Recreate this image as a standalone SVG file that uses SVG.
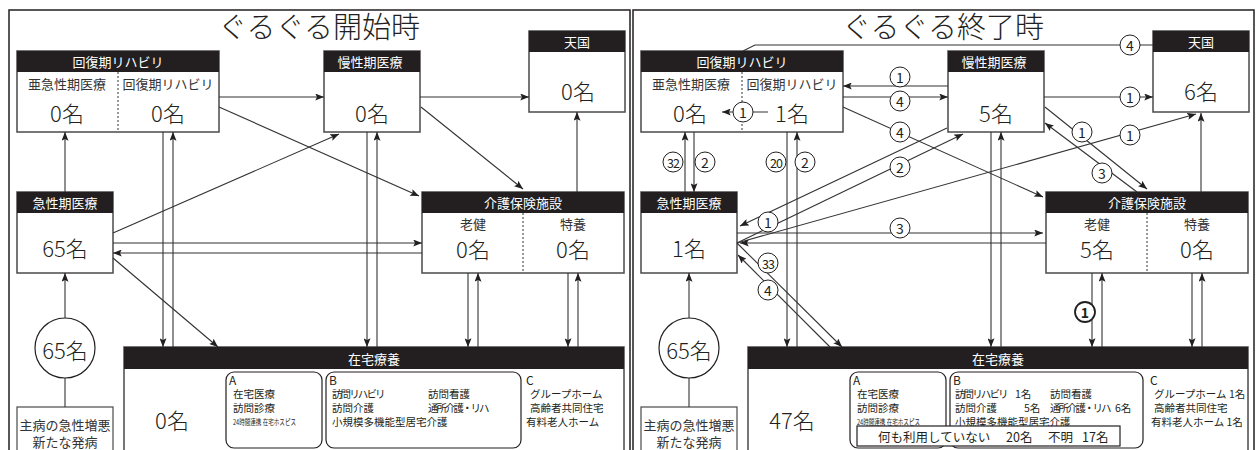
<svg xmlns="http://www.w3.org/2000/svg" width="1257" height="450" viewBox="0 0 1257 450">
<defs>
<marker id="ah" viewBox="0 0 10 8" refX="10" refY="4" markerWidth="9" markerHeight="7" orient="auto" markerUnits="userSpaceOnUse"><path d="M0,0 L10,4 L0,8 L2,4 z" fill="#231f20"/></marker>
</defs>
<style>
text{font-family:"Noto Sans CJK JP","Noto Sans",sans-serif;fill:#231f20}
.c{text-anchor:middle;dominant-baseline:central}
.m{dominant-baseline:central}
.frame{fill:none;stroke:#231f20;stroke-width:1.5}
.box{fill:#fff;stroke:#4a4a4a;stroke-width:1.5}
.hdr{fill:#231f20}
.ht{fill:#fff;font-size:13px}
.sub{fill:#333;font-size:13px}
.num{font-size:22px;font-weight:300}
.title{font-size:29px;font-weight:300;text-anchor:middle}
.div{stroke:#333;stroke-width:1;stroke-dasharray:2 2}
.ln{fill:none;stroke:#333;stroke-width:1.1}
.a{marker-end:url(#ah)}
.lc{fill:#fff;stroke:#231f20;stroke-width:1}
.lt{font-size:14px}
.lt2{font-size:12.5px;letter-spacing:-1px}
.lst{font-size:10.5px}
.nr1{letter-spacing:-1.9px}
.nr2{letter-spacing:-2px}
.rb{fill:#fff;stroke:#231f20;stroke-width:1.2}
.tiny{font-size:8px}
</style>

<!-- ============ LEFT PANEL ============ -->
<g id="L-panel">
<path class="frame" d="M9,452 V10 H630 V452"/>
<text class="title" x="319" y="38">ぐるぐる開始時</text>
</g>

<g id="L-kaifuku">
<rect class="box" x="17" y="51" width="202" height="81"/>
<rect class="hdr" x="17" y="51" width="202" height="21"/>
<text class="ht c" x="118" y="61.5">回復期リハビリ</text>
<line class="div" x1="118" y1="72" x2="118" y2="132"/>
<text class="sub c" x="67" y="83">亜急性期医療</text>
<text class="sub c" x="168" y="83">回復期リハビリ</text>
<text class="num c" x="67" y="112">0名</text>
<text class="num c" x="168" y="112">0名</text>
</g>

<g id="L-mansei">
<rect class="box" x="324" y="51" width="96" height="81"/>
<rect class="hdr" x="324" y="51" width="96" height="21"/>
<text class="ht c" x="370" y="61.5">慢性期医療</text>
<text class="num c" x="372" y="112">0名</text>
</g>

<g id="L-tengoku">
<rect class="box" x="529" y="31" width="96" height="81"/>
<rect class="hdr" x="529" y="31" width="96" height="21"/>
<text class="ht c" x="577" y="41.5">天国</text>
<text class="num c" x="578" y="90">0名</text>
</g>

<g id="L-kyusei">
<rect class="box" x="17" y="192" width="96" height="81"/>
<rect class="hdr" x="17" y="192" width="96" height="21"/>
<text class="ht c" x="65" y="202.5">急性期医療</text>
<text class="num c" x="65" y="247">65名</text>
</g>

<g id="L-kaigo">
<rect class="box" x="422" y="192" width="202" height="81"/>
<rect class="hdr" x="422" y="192" width="202" height="21"/>
<text class="ht c" x="523" y="202.5">介護保険施設</text>
<line class="div" x1="523" y1="213" x2="523" y2="273"/>
<text class="sub c" x="473" y="223">老健</text>
<text class="sub c" x="573" y="223">特養</text>
<text class="num c" x="473" y="248">0名</text>
<text class="num c" x="573" y="248">0名</text>
</g>

<g id="L-source">
<circle cx="65" cy="348" r="30" fill="#fff" stroke="#231f20" stroke-width="1.2"/>
<text class="num c" x="65" y="349">65名</text>
<rect x="17" y="407" width="96" height="50" fill="#fff" stroke="#4a4a4a" stroke-width="1.2"/>
<text class="sub c" x="65" y="424">主病の急性増悪</text>
<text class="sub c" x="65" y="441">新たな発病</text>
</g>

<g id="L-zaitaku">
<rect class="box" x="124" y="347" width="500" height="110"/>
<rect class="hdr" x="124" y="347" width="500" height="22"/>
<text class="ht c" x="374" y="358">在宅療養</text>
<text class="num c" x="172" y="419">0名</text>
<rect class="rb" x="226" y="372" width="96" height="76" rx="8"/>
<text class="lst m" x="229" y="379" style="font-size:12px">A</text>
<text class="lst m" x="233" y="393">在宅医療</text>
<text class="lst m" x="233" y="407">訪問診療</text>
<text class="tiny m" x="233" y="421" textLength="63" lengthAdjust="spacingAndGlyphs">24時間連携 在宅ホスピス</text>
<rect class="rb" x="326" y="372" width="195" height="76" rx="8"/>
<text class="lst m" x="329" y="379" style="font-size:12px">B</text>
<text class="lst m nr1" x="332" y="393">訪問リハビリ</text>
<text class="lst m" x="428" y="393">訪問看護</text>
<text class="lst m" x="332" y="407">訪問介護</text>
<text class="lst m nr2" x="428" y="407">通所介護・リハ</text>
<text class="lst m" x="332" y="421">小規模多機能型居宅介護</text>
<text class="lst m" x="526" y="379" style="font-size:12px">C</text>
<text class="lst m" x="530" y="393">グループホーム</text>
<text class="lst m" x="530" y="407">高齢者共同住宅</text>
<text class="lst m" x="526" y="421">有料老人ホーム</text>
</g>

<g id="L-connectors">
<line class="ln a" x1="219" y1="97" x2="324" y2="97"/>
<line class="ln a" x1="420" y1="97" x2="529" y2="97"/>
<line class="ln a" x1="219" y1="107" x2="419" y2="196"/>
<line class="ln a" x1="421" y1="107" x2="523" y2="189"/>
<line class="ln a" x1="113" y1="233" x2="339" y2="134"/>
<line class="ln a" x1="113" y1="243" x2="422" y2="243"/>
<line class="ln a" x1="422" y1="253" x2="113" y2="253"/>
<line class="ln a" x1="113" y1="258" x2="218" y2="347"/>
<line class="ln a" x1="65" y1="192" x2="65" y2="132"/>
<line class="ln a" x1="163" y1="132" x2="163" y2="347"/>
<line class="ln a" x1="173" y1="347" x2="173" y2="132"/>
<line class="ln a" x1="367" y1="132" x2="367" y2="347"/>
<line class="ln a" x1="377" y1="347" x2="377" y2="132"/>
<line class="ln a" x1="468" y1="273" x2="468" y2="347"/>
<line class="ln a" x1="478" y1="347" x2="478" y2="273"/>
<line class="ln a" x1="568" y1="273" x2="568" y2="347"/>
<line class="ln a" x1="578" y1="347" x2="578" y2="273"/>
<line class="ln a" x1="577" y1="192" x2="577" y2="112"/>
<line class="ln a" x1="65" y1="318" x2="65" y2="273"/>
<line class="ln" x1="65" y1="378" x2="65" y2="407"/>
</g>

<!-- ============ RIGHT PANEL ============ -->
<g transform="translate(624,0)">
<g id="R-panel">
<path class="frame" d="M9,452 V10 H630 V452"/>
<text class="title" x="319" y="38">ぐるぐる終了時</text>
</g>

<g id="R-kaifuku">
<rect class="box" x="17" y="51" width="202" height="81"/>
<rect class="hdr" x="17" y="51" width="202" height="21"/>
<text class="ht c" x="118" y="61.5">回復期リハビリ</text>
<line class="div" x1="118" y1="72" x2="118" y2="132"/>
<text class="sub c" x="67" y="83">亜急性期医療</text>
<text class="sub c" x="168" y="83">回復期リハビリ</text>
<text class="num c" x="66" y="112">0名</text>
<text class="num c" x="168" y="112">1名</text>
</g>

<g id="R-mansei">
<rect class="box" x="324" y="51" width="96" height="81"/>
<rect class="hdr" x="324" y="51" width="96" height="21"/>
<text class="ht c" x="370" y="61.5">慢性期医療</text>
<text class="num c" x="372" y="112">5名</text>
</g>

<g id="R-tengoku">
<rect class="box" x="529" y="31" width="96" height="81"/>
<rect class="hdr" x="529" y="31" width="96" height="21"/>
<text class="ht c" x="577" y="41.5">天国</text>
<text class="num c" x="577" y="90">6名</text>
</g>

<g id="R-kyusei">
<rect class="box" x="17" y="192" width="96" height="81"/>
<rect class="hdr" x="17" y="192" width="96" height="21"/>
<text class="ht c" x="65" y="202.5">急性期医療</text>
<text class="num c" x="65" y="247">1名</text>
</g>

<g id="R-kaigo">
<rect class="box" x="422" y="192" width="202" height="81"/>
<rect class="hdr" x="422" y="192" width="202" height="21"/>
<text class="ht c" x="523" y="202.5">介護保険施設</text>
<line class="div" x1="523" y1="213" x2="523" y2="273"/>
<text class="sub c" x="473" y="223">老健</text>
<text class="sub c" x="573" y="223">特養</text>
<text class="num c" x="473" y="248">5名</text>
<text class="num c" x="573" y="248">0名</text>
</g>

<g id="R-source">
<circle cx="65" cy="348" r="30" fill="#fff" stroke="#231f20" stroke-width="1.2"/>
<text class="num c" x="65" y="349">65名</text>
<rect x="17" y="407" width="96" height="50" fill="#fff" stroke="#4a4a4a" stroke-width="1.2"/>
<text class="sub c" x="65" y="424">主病の急性増悪</text>
<text class="sub c" x="65" y="441">新たな発病</text>
</g>

<g id="R-zaitaku">
<rect class="box" x="124" y="347" width="500" height="110"/>
<rect class="hdr" x="124" y="347" width="500" height="22"/>
<text class="ht c" x="374" y="358">在宅療養</text>
<text class="num c" x="168" y="419">47名</text>
<rect class="rb" x="226" y="372" width="96" height="76" rx="8"/>
<text class="lst m" x="229" y="379" style="font-size:12px">A</text>
<text class="lst m" x="233" y="393">在宅医療</text>
<text class="lst m" x="233" y="407">訪問診療</text>
<text class="tiny m" x="233" y="421" textLength="63" lengthAdjust="spacingAndGlyphs">24時間連携 在宅ホスピス</text>
<rect class="rb" x="326" y="372" width="193" height="76" rx="8"/>
<text class="lst m" x="329" y="379" style="font-size:12px">B</text>
<text class="lst m nr1" x="331" y="393">訪問リハビリ</text>
<text class="lst m" x="391" y="393">1名</text>
<text class="lst m" x="426" y="393">訪問看護</text>
<text class="lst m" x="331" y="407">訪問介護</text>
<text class="lst m" x="400" y="407">5名</text>
<text class="lst m nr2" x="426" y="407">通所介護・リハ</text>
<text class="lst m" x="491" y="407">6名</text>
<text class="lst m" x="331" y="421">小規模多機能型居宅介護</text>
<text class="lst m" x="526" y="379" style="font-size:12px">C</text>
<text class="lst m" x="530" y="393">グループホーム 1名</text>
<text class="lst m" x="530" y="407">高齢者共同住宅</text>
<text class="lst m" x="527" y="421">有料老人ホーム 1名</text>
<rect x="233" y="426" width="263" height="20" fill="#fff" stroke="#231f20" stroke-width="1.2"/>
<text class="m" x="254" y="436" style="font-size:12.5px">何も利用していない</text>
<text class="m" x="382" y="436" style="font-size:12.5px">20名</text>
<text class="m" x="424" y="436" style="font-size:12.5px">不明</text>
<text class="m" x="458" y="436" style="font-size:12.5px">17名</text>
</g>

<g id="R-connectors">
<polyline class="ln" points="119,51 131,45 529,45"/>
<line class="ln a" x1="324" y1="86" x2="219" y2="86"/>
<line class="ln a" x1="219" y1="97" x2="324" y2="97"/>
<line class="ln a" x1="144" y1="112" x2="98" y2="112"/>
<line class="ln a" x1="219" y1="107" x2="419" y2="197"/>
<line class="ln a" x1="420" y1="97" x2="529" y2="97"/>
<line class="ln a" x1="421" y1="107" x2="523" y2="189"/>
<line class="ln a" x1="513" y1="192" x2="421" y2="123"/>
<line class="ln a" x1="113" y1="243" x2="572" y2="114"/>
<line class="ln a" x1="577" y1="192" x2="577" y2="113"/>
<line class="ln a" x1="113" y1="243" x2="339" y2="134"/>
<line class="ln a" x1="323" y1="128" x2="116" y2="226"/>
<line class="ln a" x1="113" y1="233" x2="419" y2="233"/>
<line class="ln a" x1="422" y1="243" x2="116" y2="243"/>
<line class="ln a" x1="113" y1="243" x2="218" y2="347"/>
<line class="ln a" x1="206" y1="347" x2="114" y2="255"/>
<line class="ln a" x1="61" y1="192" x2="61" y2="132"/>
<line class="ln a" x1="70" y1="132" x2="70" y2="192"/>
<line class="ln a" x1="163" y1="132" x2="163" y2="347"/>
<line class="ln a" x1="173" y1="347" x2="173" y2="132"/>
<line class="ln a" x1="367" y1="132" x2="367" y2="347"/>
<line class="ln a" x1="377" y1="347" x2="377" y2="132"/>
<line class="ln a" x1="468" y1="273" x2="468" y2="347"/>
<line class="ln a" x1="478" y1="347" x2="478" y2="273"/>
<line class="ln a" x1="568" y1="273" x2="568" y2="347"/>
<line class="ln a" x1="578" y1="347" x2="578" y2="273"/>
<line class="ln a" x1="65" y1="318" x2="65" y2="273"/>
<line class="ln" x1="65" y1="378" x2="65" y2="407"/>

<g id="R-labels">
<circle class="lc" cx="506" cy="45" r="10"/><text class="lt c" x="506" y="45">4</text>
<circle class="lc" cx="276" cy="77" r="10"/><text class="lt c" x="276" y="77">1</text>
<circle class="lc" cx="276" cy="101" r="10"/><text class="lt c" x="276" y="101">4</text>
<circle class="lc" cx="119" cy="112" r="10"/><text class="lt c" x="119" y="112">1</text>
<circle class="lc" cx="276" cy="132" r="10"/><text class="lt c" x="276" y="132">4</text>
<circle class="lc" cx="506" cy="97" r="10"/><text class="lt c" x="506" y="97">1</text>
<circle class="lc" cx="458" cy="132" r="10"/><text class="lt c" x="458" y="132">1</text>
<circle class="lc" cx="506" cy="135" r="10"/><text class="lt c" x="506" y="135">1</text>
<circle class="lc" cx="478" cy="173" r="10"/><text class="lt c" x="478" y="173">3</text>
<circle class="lc" cx="276" cy="167" r="10"/><text class="lt c" x="276" y="167">2</text>
<circle class="lc" cx="49" cy="162" r="10"/><text class="lt2 c" x="49" y="162">32</text>
<circle class="lc" cx="81" cy="162" r="10"/><text class="lt c" x="81" y="162">2</text>
<circle class="lc" cx="152" cy="162" r="10"/><text class="lt2 c" x="152" y="162">20</text>
<circle class="lc" cx="181" cy="162" r="10"/><text class="lt c" x="181" y="162">2</text>
<circle class="lc" cx="144" cy="222" r="10"/><text class="lt c" x="144" y="222">1</text>
<circle class="lc" cx="276" cy="228" r="10"/><text class="lt c" x="276" y="228">3</text>
<circle class="lc" cx="144" cy="263" r="10"/><text class="lt2 c" x="144" y="263">33</text>
<circle class="lc" cx="144" cy="290" r="10"/><text class="lt c" x="144" y="290">4</text>
<circle class="lc" cx="461" cy="312" r="10" style="stroke-width:1.8"/><text class="lt c" x="461" y="312" style="font-weight:bold">1</text>
</g>
</g>
</g>
</svg>
